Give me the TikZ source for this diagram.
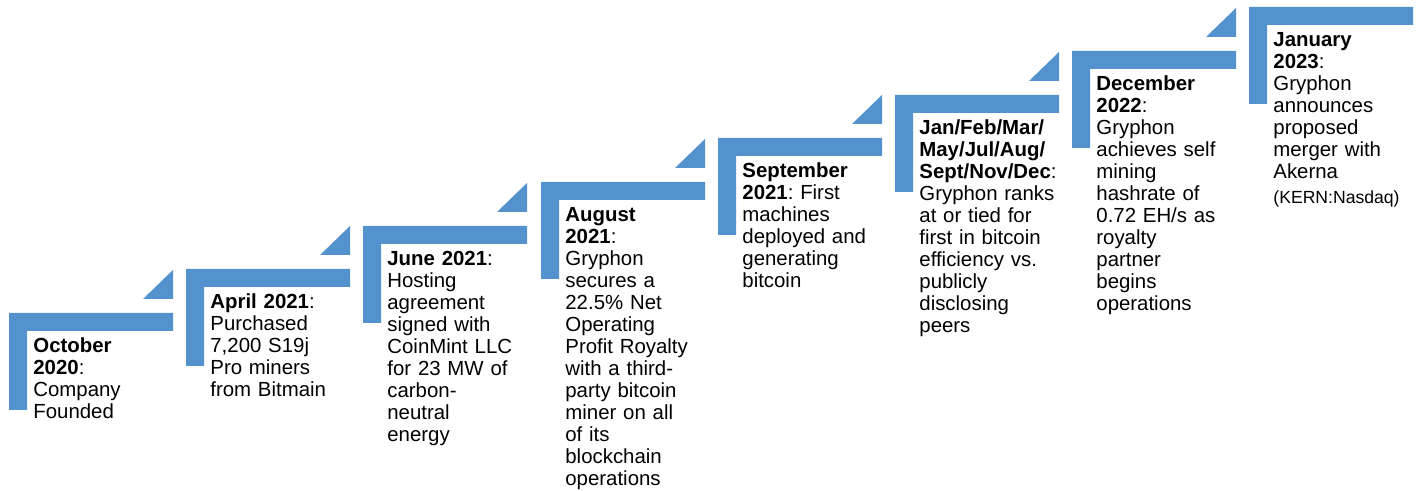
\documentclass[tikz,border=0pt]{standalone}
\usepackage{fontspec}
\setmainfont{Liberation Sans}
\definecolor{stepblue}{RGB}{84,146,206}
\newcommand{\tickerfont}{\fontsize{8.8}{12}\selectfont}
\frenchspacing

\begin{document}
\begin{tikzpicture}[
    x=0.5pt, y=-0.5pt,
    bar/.style={fill=stepblue},
    stairstep/.pic={
        \fill [bar] (0,0) -- (164,0) -- (164,18) -- (18,18) -- (18,97) -- (0,97) -- cycle;
    },
    stairhead/.pic={
        \fill [bar] (134,-14) -- (164,-14) -- (164,-43) -- cycle;
    },
    event/.style={anchor=base west, inner sep=0pt, text width=90pt, align=left, font=\fontsize{10.2}{11}\selectfont}
]
    \useasboundingbox (0,0) rectangle (1419,491);

    % Stairs
    \pic at (9,313) {stairstep};
    \pic at (9,313) {stairhead};
    \pic at (186,269) {stairstep};
    \pic at (186,269) {stairhead};
    \pic at (363,226) {stairstep};
    \pic at (363,226) {stairhead};
    \pic at (541,182) {stairstep};
    \pic at (541,182) {stairhead};
    \pic at (718,138) {stairstep};
    \pic at (718,138) {stairhead};
    \pic at (895,95) {stairstep};
    \pic at (895,95) {stairhead};
    \pic at (1072,51) {stairstep};
    \pic at (1072,51) {stairhead};
    \pic at (1249,7) {stairstep};

    % Milestones
    \node [event] (oct20) at (33,353) {\textbf{October}\\\textbf{2020}:\\Company\\Founded};
    \node [event] (apr21) at (210,309) {\textbf{April 2021}:\\Purchased\\7,200 S19j\\Pro miners\\from Bitmain};
    \node [event] (jun21) at (387,266) {\textbf{June 2021}:\\Hosting\\agreement\\signed with\\CoinMint LLC\\for 23 MW of\\carbon-\\neutral\\energy};
    \node [event] (aug21) at (565,222) {\textbf{August}\\\textbf{2021}:\\Gryphon\\secures a\\22.5\% Net\\Operating\\Profit Royalty\\with a third-\\party bitcoin\\miner on all\\of its\\blockchain\\operations};
    \node [event] (sep21) at (742,178) {\textbf{September}\\\textbf{2021}: First\\machines\\deployed and\\generating\\bitcoin};
    \node [event] (ranks) at (919,135) {\textbf{Jan/Feb/Mar/}\\\textbf{May/Jul/Aug/}\\\textbf{Sept/Nov/Dec}:\\Gryphon ranks\\at or tied for\\first in bitcoin\\efficiency vs.\\publicly\\disclosing\\peers};
    \node [event] (dec22) at (1096,91) {\textbf{December}\\\textbf{2022}:\\Gryphon\\achieves self\\mining\\hashrate of\\0.72 EH/s as\\royalty\\partner\\begins\\operations};
    \node [event] (jan23) at (1273,47) {\textbf{January}\\\textbf{2023}:\\Gryphon\\announces\\proposed\\merger with\\Akerna\\[1.5pt]{\tickerfont (KERN:Nasdaq)}};
\end{tikzpicture}
\end{document}
